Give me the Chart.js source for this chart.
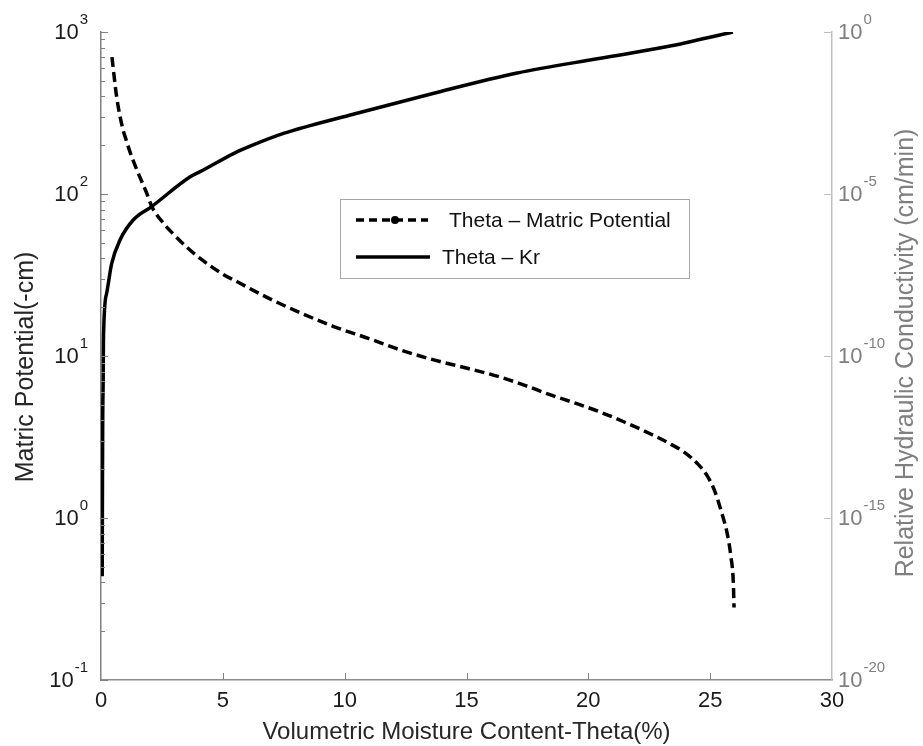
<!DOCTYPE html>
<html>
<head>
<meta charset="utf-8">
<script src="https://cdn.jsdelivr.net/npm/chart.js@4.4.0/dist/chart.umd.min.js"></script>
<style>
  html, body { margin: 0; padding: 0; background: #fff; }
  #wrap { width: 923px; height: 746px; }
</style>
</head>
<body>
<div id="wrap"><canvas id="chart"></canvas></div>
<script>
// Theta - Matric Potential (left axis, -cm)
const thetaMatric = [0.45, 0.64, 0.9, 0.99, 1.2, 1.47, 1.88, 2.08, 2.6, 3.0, 3.52, 4.07, 5.0, 5.63, 6.81, 8.0, 9.55, 11.0, 12.29, 13.5, 15.03, 16.4, 17.5, 18.45, 19.5, 20.5, 21.5, 22.56, 23.3, 23.93, 24.5, 24.9, 25.2, 25.44, 25.7, 25.85, 25.95, 25.98];
const matricPotential = [700, 400, 250, 226, 180, 141, 101, 84, 65, 56, 47, 40, 32, 28.5, 23, 19, 15.2, 12.8, 10.9, 9.6, 8.4, 7.4, 6.5, 5.75, 5.1, 4.5, 3.9, 3.3, 2.9, 2.55, 2.15, 1.8, 1.45, 1.12, 0.8, 0.58, 0.4, 0.28];

// Theta - Kr (right axis, cm/min)
const thetaKr = [0.05, 0.06, 0.07, 0.09, 0.1, 0.23, 0.44, 0.78, 1.33, 2.08, 3.66, 4.07, 5.58, 6.12, 7.49, 10.23, 13.66, 17.08, 20.5, 23.25, 25.93];
const krValues = [1.6e-17, 1e-14, 1e-12, 2e-11, 3.2e-10, 8.5e-9, 7.2e-8, 3.8e-7, 1.6e-6, 4.1e-6, 3.4e-5, 4.9e-5, 2.0e-4, 3.0e-4, 7.4e-4, 2.75e-3, 1.29e-2, 5.4e-2, 0.155, 0.355, 1.0];

const xTicks = [0, 5, 10, 15, 20, 25, 30];
const leftTicks = [0.1, 1, 10, 100, 1000];
const leftTickExp = ["-1", "0", "1", "2", "3"];
const rightTicks = [1, 1e-5, 1e-10, 1e-15, 1e-20];
const rightTickExp = ["0", "-5", "-10", "-15", "-20"];

const FONT = '"Liberation Sans", Arial, sans-serif';

function pow10Label(ctx, exp, x, y, align, color) {
  ctx.font = "22px " + FONT;
  const wBase = ctx.measureText("10").width;
  ctx.font = "15px " + FONT;
  const wExp = ctx.measureText(exp).width;
  const x0 = align === "right" ? x - wBase - wExp - 1 : x;
  ctx.fillStyle = color;
  ctx.textAlign = "left";
  ctx.textBaseline = "alphabetic";
  ctx.font = "22px " + FONT;
  ctx.fillText("10", x0, y + 7);
  ctx.font = "15px " + FONT;
  ctx.fillText(exp, x0 + wBase + 1, y - 8);
}

const decorations = {
  id: "decorations",
  afterDraw(chart) {
    const ctx = chart.ctx;
    const area = chart.chartArea;
    const sx = chart.scales.x, sy = chart.scales.y, sy2 = chart.scales.y2;
    ctx.save();

    // inward ticks, left axis (log, with minors)
    ctx.strokeStyle = "#808080";
    ctx.lineWidth = 1;
    for (let e = -1; e < 3; e++) {
      for (let m = 1; m <= 9; m++) {
        const v = m * Math.pow(10, e);
        const py = Math.round(sy.getPixelForValue(v)) + 0.5;
        ctx.beginPath();
        ctx.moveTo(area.left, py);
        ctx.lineTo(area.left + (m === 1 ? 7 : 4), py);
        ctx.stroke();
      }
    }
    let pTop = Math.round(sy.getPixelForValue(1000)) + 0.5;
    ctx.beginPath(); ctx.moveTo(area.left, pTop); ctx.lineTo(area.left + 7, pTop); ctx.stroke();

    // right axis ticks
    ctx.strokeStyle = "#bfbfbf";
    rightTicks.forEach(v => {
      const py = Math.round(sy2.getPixelForValue(v)) + 0.5;
      ctx.beginPath(); ctx.moveTo(area.right, py); ctx.lineTo(area.right - 8, py); ctx.stroke();
    });

    // bottom ticks
    ctx.strokeStyle = "#808080";
    xTicks.slice(1, -1).forEach(v => {
      const px = Math.round(sx.getPixelForValue(v)) + 0.5;
      ctx.beginPath(); ctx.moveTo(px, area.bottom); ctx.lineTo(px, area.bottom - 7); ctx.stroke();
    });

    // tick labels
    leftTicks.forEach((v, i) => pow10Label(ctx, leftTickExp[i], area.left - 13, sy.getPixelForValue(v), "right", "#1a1a1a"));
    rightTicks.forEach((v, i) => pow10Label(ctx, rightTickExp[i], area.right + 6, sy2.getPixelForValue(v), "left", "#7f7f7f"));
    ctx.font = "22px " + FONT;
    ctx.fillStyle = "#1a1a1a";
    ctx.textAlign = "center";
    ctx.textBaseline = "alphabetic";
    xTicks.forEach(v => ctx.fillText(String(v), sx.getPixelForValue(v), area.bottom + 27));

    // axis titles
    ctx.font = "24px " + FONT;
    ctx.fillStyle = "#262626";
    ctx.fillText("Volumetric Moisture Content-Theta(%)", (area.left + area.right) / 2, area.bottom + 59);

    ctx.save();
    ctx.translate(26, 367);
    ctx.rotate(-Math.PI / 2);
    ctx.textBaseline = "middle";
    ctx.font = "25px " + FONT;
    ctx.fillText("Matric Potential(-cm)", 0, 0);
    ctx.restore();

    ctx.save();
    ctx.translate(906, 353);
    ctx.rotate(-Math.PI / 2);
    ctx.textBaseline = "middle";
    ctx.textAlign = "center";
    ctx.font = "25px " + FONT;
    ctx.fillStyle = "#7f7f7f";
    ctx.fillText("Relative Hydraulic Conductivity (cm/min)", 0, 0);
    ctx.restore();

    // legend box
    const lx = area.left + 239, ly = area.top + 167, lw = 349, lh = 79;
    ctx.fillStyle = "#fff";
    ctx.fillRect(lx, ly, lw, lh);
    ctx.strokeStyle = "#a6a6a6";
    ctx.lineWidth = 1;
    ctx.strokeRect(lx + 0.5, ly + 0.5, lw, lh);

    ctx.strokeStyle = "#000";
    ctx.lineWidth = 3.5;
    ctx.setLineDash([8, 5]);
    ctx.beginPath(); ctx.moveTo(lx + 16, ly + 21); ctx.lineTo(lx + 88, ly + 21); ctx.stroke();
    ctx.setLineDash([]);
    ctx.fillStyle = "#000";
    ctx.beginPath(); ctx.arc(lx + 55, ly + 21, 4, 0, Math.PI * 2); ctx.fill();
    ctx.beginPath(); ctx.moveTo(lx + 16, ly + 58); ctx.lineTo(lx + 90, ly + 58); ctx.stroke();

    ctx.font = "21px " + FONT;
    ctx.fillStyle = "#111";
    ctx.textAlign = "left";
    ctx.textBaseline = "middle";
    ctx.fillText("Theta \u2013 Matric Potential", lx + 109, ly + 22);
    ctx.fillText("Theta \u2013 Kr", lx + 102, ly + 59);

    ctx.restore();
  }
};

new Chart(document.getElementById("chart"), {
  type: "line",
  data: {
    datasets: [
      {
        label: "Theta \u2013 Matric Potential",
        data: thetaMatric.map((t, i) => ({ x: t, y: matricPotential[i] })),
        yAxisID: "y",
        borderColor: "#000",
        borderWidth: 3.5,
        borderDash: [10, 5],
        pointRadius: 0,
        cubicInterpolationMode: "monotone",
      },
      {
        label: "Theta \u2013 Kr",
        data: thetaKr.map((t, i) => ({ x: t, y: krValues[i] })),
        yAxisID: "y2",
        borderColor: "#000",
        borderWidth: 3.5,
        pointRadius: 0,
        cubicInterpolationMode: "monotone",
      },
    ],
  },
  options: {
    responsive: true,
    maintainAspectRatio: false,
    animation: false,
    layout: {
      padding: { left: 101, right: 91, top: 32, bottom: 66 },
    },
    scales: {
      x: {
        type: "linear",
        position: "bottom",
        min: 0,
        max: 30,
        grid: { display: false, drawTicks: false },
        ticks: { display: false },
        border: { color: "#8c8c8c", width: 1.5 },
      },
      y: {
        type: "logarithmic",
        position: "left",
        min: 0.1,
        max: 1000,
        grid: { display: false, drawTicks: false },
        ticks: { display: false },
        border: { color: "#808080", width: 1.5 },
      },
      y2: {
        type: "logarithmic",
        position: "right",
        min: 1e-20,
        max: 1,
        grid: { display: false, drawTicks: false },
        ticks: { display: false },
        border: { color: "#bfbfbf", width: 1.5 },
      },
    },
    plugins: {
      legend: { display: false },
      tooltip: { enabled: false },
    },
  },
  plugins: [decorations],
});
</script>
</body>
</html>
